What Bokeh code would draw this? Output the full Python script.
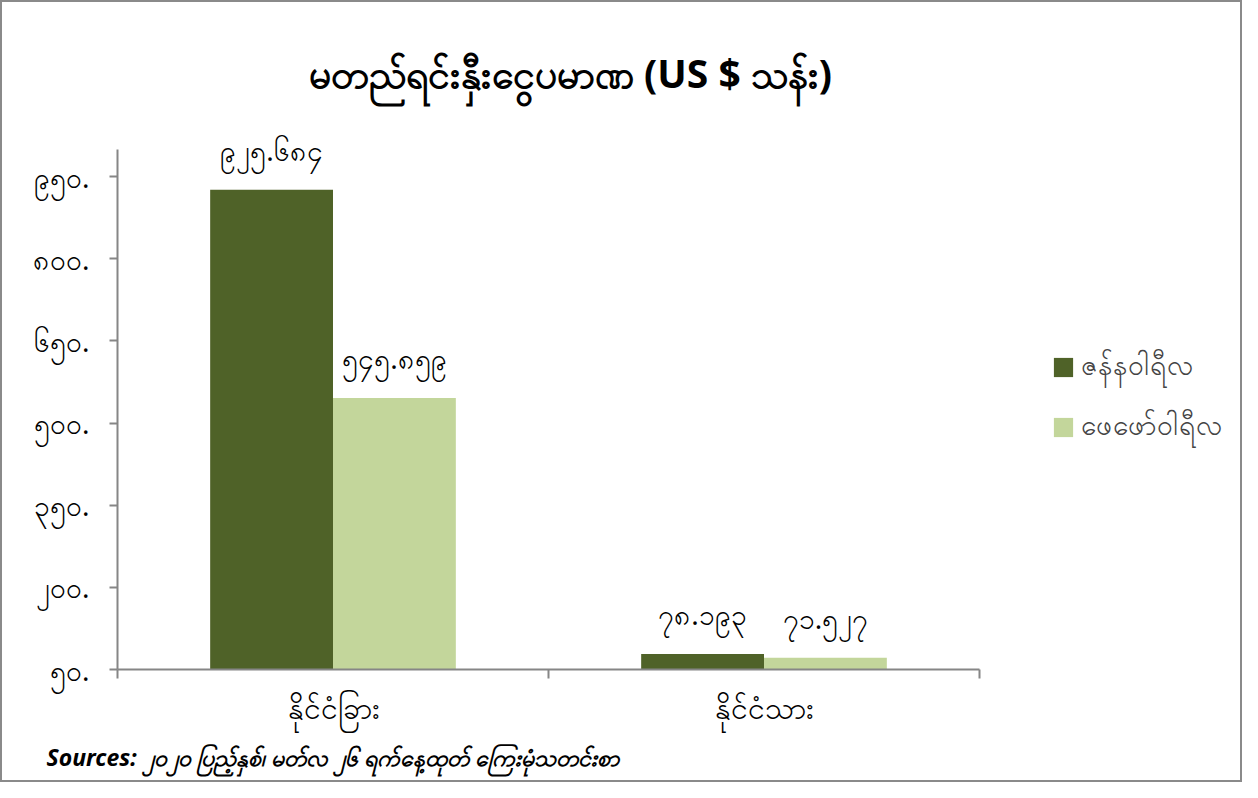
from bokeh.plotting import figure
from bokeh.models import ColumnDataSource, FixedTicker, Label, Legend, LegendItem, Range1d, Title
from bokeh.embed import file_html
from bokeh.resources import INLINE
from bokeh.core.properties import value

# ---- data ----
title_text = "မတည်ရင်းနှီးငွေပမာဏ (US $ သန်း)"
categories = ["နိုင်ငံခြား", "နိုင်ငံသား"]
series_names = ["ဇန်နဝါရီလ", "ဖေဖော်ဝါရီလ"]
jan_values = [925.684, 78.193]
feb_values = [545.859, 71.527]
jan_labels = ["၉၂၅.၆၈၄", "၇၈.၁၉၃"]
feb_labels = ["၅၄၅.၈၅၉", "၇၁.၅၂၇"]
y_tick_values = [50, 200, 350, 500, 650, 800, 950]
y_tick_labels = ["၅၀.", "၂၀၀.", "၃၅၀.", "၅၀၀.", "၆၅၀.", "၈၀၀.", "၉၅၀."]
y_axis_min, y_axis_max = 50, 1000
source_text = "Sources: ၂၀၂၀ ပြည့်နှစ်၊ မတ်လ ၂၆ ရက်နေ့ထုတ် ကြေးမုံသတင်းစာ"

FONT = "Noto Sans"
DARK = "#4F6228"
LIGHT = "#C3D69B"
AXIS = "#868686"

W, H = 1242, 782
FL, FB = 115, 667            # frame left / x-axis position (canvas px)
CAT_W = 431                  # px per category
PX_PER_UNIT = 493 / 900      # px per value unit
x_end = (W - FL) / CAT_W
y_end = y_axis_min + FB / PX_PER_UNIT

p = figure(width=W, height=H, output_backend="svg", toolbar_location=None,
           x_range=Range1d(0, x_end), y_range=Range1d(y_axis_min, y_end),
           min_border_left=FL, min_border_right=0, min_border_top=0, min_border_bottom=H - FB)
p.styles = {"border": "2px solid #8a8a8a"}
p.outline_line_color = None
p.xgrid.visible = False
p.ygrid.visible = False

bw = 0.285
cx = [0.5 + i for i in range(len(categories))]
src = ColumnDataSource(dict(
    x_jan=[c - bw / 2 for c in cx], x_feb=[c + bw / 2 for c in cx],
    jan=jan_values, feb=feb_values, jl=jan_labels, fl=feb_labels))

r1 = p.vbar(x="x_jan", top="jan", bottom=y_axis_min, width=bw, source=src, fill_color=DARK, line_color=None)
r2 = p.vbar(x="x_feb", top="feb", bottom=y_axis_min, width=bw, source=src, fill_color=LIGHT, line_color=None)

for xcol, ycol, tcol in (("x_jan", "jan", "jl"), ("x_feb", "feb", "fl")):
    p.text(x=xcol, y=ycol, text=tcol, source=src, text_align="center", text_baseline="bottom",
           y_offset=-21, text_font=value(FONT), text_font_size="28px", text_color="black")

# axes
p.yaxis.bounds = (y_axis_min, y_axis_max)
p.yaxis.ticker = FixedTicker(ticks=y_tick_values, minor_ticks=[])
p.yaxis.major_label_overrides = {v: l for v, l in zip(y_tick_values, y_tick_labels)}
p.yaxis.major_label_text_font = FONT
p.yaxis.major_label_text_font_size = "28px"
p.yaxis.major_label_text_color = "black"
p.yaxis.axis_line_color = AXIS
p.yaxis.axis_line_width = 2
p.yaxis.major_tick_line_color = AXIS
p.yaxis.major_tick_line_width = 2
p.yaxis.major_tick_out = 8
p.yaxis.major_tick_in = 0
p.yaxis.major_label_standoff = 20

p.xaxis.bounds = (0, len(categories))
p.xaxis.ticker = FixedTicker(ticks=cx, minor_ticks=list(range(len(categories) + 1)))
p.xaxis.major_label_overrides = {c: l for c, l in zip(cx, categories)}
p.xaxis.major_label_text_font = FONT
p.xaxis.major_label_text_font_size = "30px"
p.xaxis.major_label_text_color = "black"
p.xaxis.axis_line_color = AXIS
p.xaxis.axis_line_width = 2
p.xaxis.major_tick_line_color = None
p.xaxis.minor_tick_line_color = AXIS
p.xaxis.minor_tick_line_width = 2
p.xaxis.minor_tick_out = 9
p.xaxis.minor_tick_in = 0
p.xaxis.major_label_standoff = 8

# legend (inside the wide frame, right of the axis bounds)
legend = Legend(items=[LegendItem(label=series_names[0], renderers=[r1]),
                       LegendItem(label=series_names[1], renderers=[r2])],
                location=(934, 220), orientation="vertical",
                glyph_width=24, glyph_height=24, label_text_font=FONT, label_text_font_size="28px",
                label_height=18, spacing=16, padding=0, margin=0, border_line_color=None,
                background_fill_alpha=0, label_standoff=6)
p.add_layout(legend, "center")

# title (screen units relative to the frame's bottom-left)
p.add_layout(Label(x=568 - FL, y=FB - 70, x_units="screen", y_units="screen", text=title_text,
                   text_align="center", text_baseline="middle", text_font=FONT,
                   text_font_size="39px", text_font_style="bold", text_color="black"))

# source note below the axis
p.add_layout(Title(text=source_text, align="left", offset=44 - FL, standoff=16,
                   text_font=FONT, text_font_size="23px", text_font_style="bold italic",
                   text_color="black"), "below")

open("out.html", "w").write(file_html(p, INLINE))
